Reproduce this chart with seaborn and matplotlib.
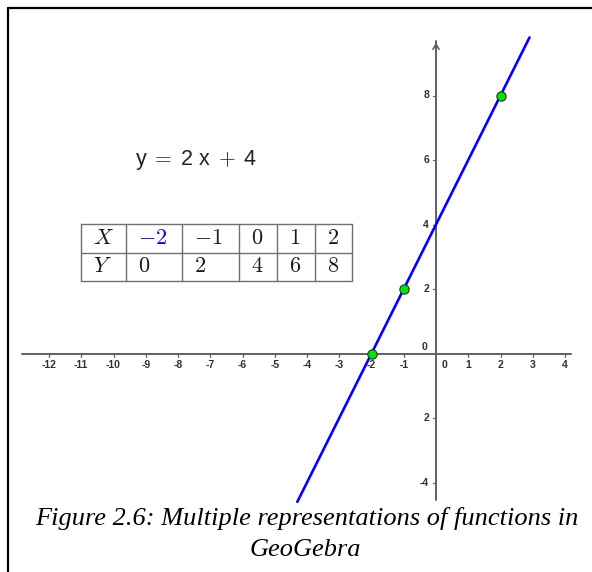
import matplotlib
matplotlib.use("Agg")
import matplotlib.pyplot as plt
from matplotlib.lines import Line2D
import pandas as pd
import seaborn as sns

# ---- data -------------------------------------------------------------
# line y = 2x + 4, drawn between its two visible ends
line_x = [-4.3, 2.9]
line_y = [-4.6, 9.8]

# highlighted points on the line
pts_x = [-2, -1, 2]
pts_y = [0, 2, 8]

# value table
table_x = ["-2", "-1", "0", "1", "2"]
table_y = ["0", "2", "4", "6", "8"]

# axis tick labels
x_ticks = [-12, -11, -10, -9, -8, -7, -6, -5, -4, -3, -2, -1, 1, 2, 3, 4]
x_tick_labels = ["-12", "-11", "-10", "-9", "-8", "-7", "-6", "-5", "-4",
                 "-3", "-2", "-1", "1", "2", "3", "4"]
y_ticks = [-4, -2, 2, 4, 6, 8]
y_tick_labels = ["-4", "2", "2", "4", "6", "8"]

equation = r"y$\;=\;$2 x$\;+\;$4"
caption_1 = "Figure 2.6: Multiple representations of functions in"
caption_2 = "GeoGebra"

# ---- figure setup -----------------------------------------------------
sns.set_style("white")
plt.rcParams["font.family"] = ["Liberation Sans", "DejaVu Sans"]
plt.rcParams["mathtext.fontset"] = "cm"

W, H, DPI = 592, 572, 100
fig = plt.figure(figsize=(W / DPI, H / DPI), dpi=DPI)
fig.patch.set_facecolor("white")
ax = fig.add_axes([0, 0, 1, 1])

UNIT = 32.25          # pixels per unit on both axes
OX, OY = 436, 353.5   # pixel position of the origin

ax.set_xlim(-OX / UNIT, (W - OX) / UNIT)
ax.set_ylim(-(H - OY) / UNIT, OY / UNIT)
ax.axis("off")


def px(d):
    return d / UNIT


def fx(p):
    return p / W


def fy(p):
    return 1 - p / H


AXIS_COL = "#606060"
LABEL_COL = "#303030"
TICK_FONT = dict(fontsize=7.5, fontweight="bold", color=LABEL_COL)

# coordinate axes
ax.plot([px(22 - OX), px(571 - OX)], [0, 0], color=AXIS_COL, lw=1.4, zorder=1)
ax.plot([0, 0], [px(OY - 500), px(OY - 41)], color=AXIS_COL, lw=1.4, zorder=1)
ax.annotate("", xy=(0, px(OY - 40)), xytext=(0, px(OY - 48)),
            arrowprops=dict(arrowstyle="->,head_length=0.35,head_width=0.22",
                            color=AXIS_COL, lw=1.2))

# tick marks and labels
for v, lab in zip(x_ticks, x_tick_labels):
    ax.plot([v, v], [0, -px(3)], color=AXIS_COL, lw=0.9, zorder=1)
    ax.text(v, -px(11.5), lab, ha="center", va="center", **TICK_FONT)
ax.text(px(9), -px(11.5), "0", ha="center", va="center", **TICK_FONT)
for v, lab in zip(y_ticks, y_tick_labels):
    ax.plot([-px(3), 0], [v, v], color=AXIS_COL, lw=0.9, zorder=1)
    ax.text(-px(7), v, lab, ha="right", va="center", **TICK_FONT)
ax.text(-px(11), px(6.8), "0", ha="center", va="center", **TICK_FONT)

# the function and its points
sns.lineplot(x=line_x, y=line_y, ax=ax, color="#0000ff", lw=1.9, zorder=2)
sns.scatterplot(x=pts_x, y=pts_y, ax=ax, color="#00e600", s=45,
                edgecolor="#303030", linewidth=0.8, zorder=3)

# equation
fig.text(fx(196), fy(160), equation, ha="center", va="center", fontsize=15.5,
         color="#222222")

# value table
col_edges = [80.7, 126, 182.3, 239, 276.7, 314.7, 352]
row_edges = [224, 252.7, 281]
TAB_COL = "#707070"
for xe in col_edges:
    fig.add_artist(Line2D([fx(xe)] * 2, [fy(row_edges[0]), fy(row_edges[-1])],
                          color=TAB_COL, lw=1.0))
for ye in row_edges:
    fig.add_artist(Line2D([fx(col_edges[0]), fx(col_edges[-1])], [fy(ye)] * 2,
                          color=TAB_COL, lw=1.0))

rows = [("X", table_x), ("Y", table_y)]
for r, (head, vals) in enumerate(rows):
    yc = (row_edges[r] + row_edges[r + 1]) / 2
    cells = [head] + vals
    for c, txt in enumerate(cells):
        colour = "#0000ff" if (r == 0 and c == 1) else "#1a1a1a"
        fig.text(fx(col_edges[c] + 12), fy(yc), "$" + txt + "$",
                 ha="left", va="center", fontsize=16, color=colour)

# caption
fig.text(fx(307), fy(518), caption_1, ha="center", va="center",
         family="Liberation Serif", style="italic", fontsize=19, color="black")
fig.text(fx(305), fy(550), caption_2, ha="center", va="center",
         family="Liberation Serif", style="italic", fontsize=19, color="black")

# frame lines
fig.add_artist(Line2D([fx(7.5), 1], [fy(7.5)] * 2, color="black", lw=1.6))
fig.add_artist(Line2D([fx(7.5)] * 2, [fy(7.5), 0], color="black", lw=1.6))

fig.savefig("out.png", dpi=DPI, facecolor="white")
